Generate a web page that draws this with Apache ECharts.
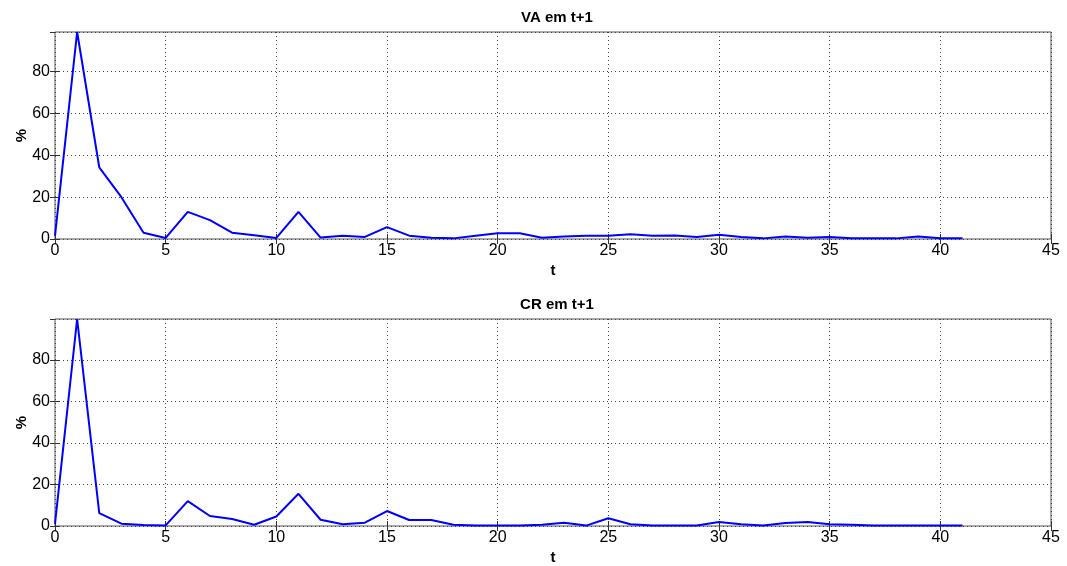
<!DOCTYPE html>
<html>
<head>
<meta charset="utf-8">
<script src="https://cdn.jsdelivr.net/npm/echarts@6/dist/echarts.min.js"></script>
<style>html,body{margin:0;padding:0;background:#fff;}#c{width:1067px;height:566px;}</style>
</head>
<body>
<div id="c"></div>
<script>
const tValues = [0,1,2,3,4,5,6,7,8,9,10,11,12,13,14,15,16,17,18,19,20,21,22,23,24,25,26,27,28,29,30,31,32,33,34,35,36,37,38,39,40,41];
const vaValues = [1.5,99,34.3,20,3,0.5,13,9,3,1.8,0.5,13,0.7,1.5,1,5.7,1.6,0.6,0.3,1.6,2.7,2.7,0.6,1.2,1.5,1.5,2.3,1.5,1.7,0.9,2,1,0.3,1.2,0.6,0.9,0.3,0.3,0.3,1.2,0.4,0.3];
const crValues = [1,99.7,6.2,1.1,0.5,0.3,12,4.8,3.4,0.6,4.6,15.5,3,0.8,1.6,7.2,2.9,2.9,0.6,0.2,0.2,0.2,0.6,1.6,0.2,3.7,0.8,0.2,0.2,0.2,1.9,0.8,0.2,1.4,1.9,0.8,0.6,0.2,0.2,0.2,0.2,0.2];
const titles = ['VA em t+1', 'CR em t+1'];
const xAxisName = 't';
const yAxisName = '%';

const font = 'Arial, "Liberation Sans", sans-serif';
const chart = echarts.init(document.getElementById('c'));
const gridTops = [32, 319];
const gridH = 207;
const yMaxes = [Math.max(...vaValues), Math.max(...crValues)];

const grids = [], xAxes = [], yAxes = [], series = [], titleOpts = [];
[vaValues, crValues].forEach((vals, i) => {
  grids.push({left: 55, right: 16, top: gridTops[i], height: gridH, show: true, borderColor: '#555', borderWidth: 1,
    backgroundColor: '#fff', containLabel: false, outerBoundsMode: 'none'});
  titleOpts.push({text: titles[i], left: 552, textAlign: 'center', top: gridTops[i] - 27,
    textStyle: {fontFamily: font, fontSize: 15, fontWeight: 'bold', color: '#000'}});
  xAxes.push({type: 'value', gridIndex: i, min: 0, max: 45, interval: 5,
    name: xAxisName, nameLocation: 'middle', nameGap: 24,
    nameTextStyle: {fontFamily: font, fontSize: 15, fontWeight: 'bold', color: '#000'},
    axisLine: {show: false}, axisTick: {show: true, inside: true, length: 5, lineStyle: {color: '#333'}},
    axisLabel: {fontFamily: font, fontSize: 16, color: '#000', margin: 4},
    splitLine: {show: true, lineStyle: {color: '#444', type: [1, 3], width: 1}}});
  xAxes.push({type: 'value', gridIndex: i, position: 'top', min: 0, max: 45, interval: 5,
    axisLine: {show: false}, axisTick: {show: true, inside: true, length: 5, lineStyle: {color: '#333'}},
    axisLabel: {show: false}, splitLine: {show: false}});
  yAxes.push({type: 'value', gridIndex: i, min: 0, max: yMaxes[i], interval: 20,
    name: yAxisName, nameLocation: 'middle', nameGap: 26, nameRotate: 90, nameMoveOverlap: false,
    nameTextStyle: {fontFamily: font, fontSize: 15, fontWeight: 'bold', color: '#000'},
    axisLine: {show: false}, axisTick: {show: true, inside: true, length: 5, lineStyle: {color: '#333'}},
    axisLabel: {fontFamily: font, fontSize: 16, color: '#000', margin: 5, showMaxLabel: false},
    splitLine: {show: true, lineStyle: {color: '#444', type: [1, 3], width: 1}}});
  yAxes.push({type: 'value', gridIndex: i, position: 'right', min: 0, max: yMaxes[i], interval: 20,
    axisLine: {show: false}, axisTick: {show: true, inside: true, length: 5, lineStyle: {color: '#333'}},
    axisLabel: {show: false}, splitLine: {show: false}});
  series.push({type: 'line', xAxisIndex: i * 2, yAxisIndex: i * 2,
    data: tValues.map((t, k) => [t, vals[k]]), showSymbol: false, symbol: 'none',
    lineStyle: {color: '#0000ff', width: 2}, itemStyle: {color: '#0000ff'}, animation: false});
});

chart.setOption({
  backgroundColor: '#fff',
  animation: false,
  title: titleOpts,
  grid: grids,
  xAxis: xAxes,
  yAxis: yAxes,
  series: series
});
</script>
</body>
</html>
